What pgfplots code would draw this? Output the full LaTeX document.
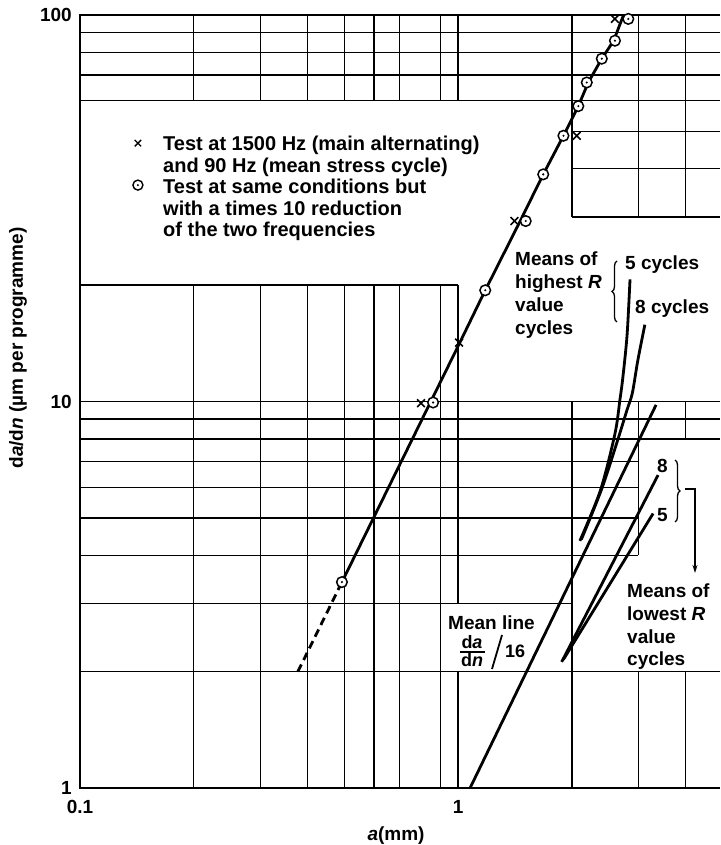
\documentclass[border=0pt]{standalone}
\usepackage{fontspec}
\setmainfont{Liberation Sans}
\usepackage{pgfplots}
\pgfplotsset{compat=1.18}
\usetikzlibrary{calc,decorations.pathreplacing,arrows.meta}
\tikzset{gl/.style={line width=1.4pt}, dl/.style={line width=2.8pt}}
\pgfdeclareplotmark{odot}{%
  \pgfpathcircle{\pgfpointorigin}{\pgfplotmarksize}%
  \pgfsetfillcolor{white}%
  \pgfusepathqfillstroke
  \pgfpathcircle{\pgfpointorigin}{0.22\pgfplotmarksize}%
  \pgfsetfillcolor{black}%
  \pgfusepathqfill
}
\begin{document}
\begin{tikzpicture}[font=\fontsize{19}{22}\selectfont\bfseries]
\begin{axis}[name=ax, scale only axis, width=640pt, height=773pt,
  xmode=log, ymode=log, xmin=0.1, xmax=4.93, ymin=1, ymax=100,
  axis line style={draw=none},
  xtick={0.1,1}, xticklabels={0.1,1},
  ytick={1,10,100}, yticklabels={1,10,100},
  xtick pos=bottom, ytick pos=left,
  major tick length=0pt, minor tick length=0pt,
  tick label style={font=\fontsize{19}{19}\selectfont\bfseries, inner sep=0pt},
  xticklabel style={yshift=-12pt},
  yticklabel style={xshift=-8pt},
  clip=false]
% ---- partial log-paper grid ----
\pgfplotsinvokeforeach{0.2,0.3,0.4,0.5,0.6,0.7,0.9}{
  \draw[gl] (axis cs:#1,1) -- (axis cs:#1,20);
  \draw[gl] (axis cs:#1,60) -- (axis cs:#1,100);
}
\draw[gl] (axis cs:1,1) -- (axis cs:1,2);
\draw[gl] (axis cs:1,3) -- (axis cs:1,20);
\draw[gl] (axis cs:1,60) -- (axis cs:1,100);
\draw[gl] (axis cs:2,1) -- (axis cs:2,10);
\draw[gl] (axis cs:2,30) -- (axis cs:2,100);
\draw[gl] (axis cs:3,1) -- (axis cs:3,2);
\draw[gl] (axis cs:3,4) -- (axis cs:3,10);
\draw[gl] (axis cs:3,30) -- (axis cs:3,100);
\draw[gl] (axis cs:4,1) -- (axis cs:4,2);
\draw[gl] (axis cs:4,8) -- (axis cs:4,10);
\draw[gl] (axis cs:4,30) -- (axis cs:4,100);
\pgfplotsinvokeforeach{60,70,80,90,8,9,10,2}{
  \draw[gl] (axis cs:0.1,#1) -- (axis cs:4.93,#1);
}
\pgfplotsinvokeforeach{30,40,50}{
  \draw[gl] (axis cs:2,#1) -- (axis cs:4.93,#1);
}
\pgfplotsinvokeforeach{4,5,6,7}{
  \draw[gl] (axis cs:0.1,#1) -- (axis cs:3,#1);
}
\draw[gl] (axis cs:0.1,20) -- (axis cs:1,20);
\draw[gl] (axis cs:0.1,3) -- (axis cs:2,3);
% frame
\draw[line width=2.2pt] (axis cs:4.93,100) -- (axis cs:0.1,100) -- (axis cs:0.1,1) -- (axis cs:4.93,1);
% ---- main crack-growth line ----
\addplot[dl, dash pattern=on 8pt off 5pt] coordinates {(0.377,2.0) (0.493,3.41)};
\addplot[dl] coordinates {
 (0.493,3.41) (0.845,9.95) (1.0,13.9) (1.18,19.4) (1.46,29.3) (1.68,38.7)
 (1.90,48.7) (2.08,58.1) (2.21,66.9) (2.40,77.1) (2.58,85.8) (2.74,100)};
% ---- highest R curves ----
\addplot[dl, smooth] coordinates {
 (2.85,20.7) (2.80,14.9) (2.73,11.6) (2.68,10.1) (2.60,8.25) (2.38,5.89) (2.10,4.36)};
\addplot[dl, smooth] coordinates {
 (3.12,15.8) (2.99,12.8) (2.89,10.5) (2.80,9.53) (2.66,8.1) (2.40,5.95) (2.12,4.40)};
% ---- mean line /16 ----
\addplot[dl] coordinates {(1.076,1) (3.34,9.8)};
% ---- lowest R lines ----
\addplot[dl] coordinates {(3.38,6.45) (1.88,2.12)};
\addplot[dl] coordinates {(3.28,5.13) (1.90,2.15)};
% ---- markers ----
\addplot[only marks, mark=x, mark size=5.5pt, line width=1.6pt] coordinates {
 (2.60,97.7) (2.06,48.7) (1.41,29.3) (1.006,14.2) (0.798,9.9)};
\addplot[only marks, mark=odot, mark size=5.3pt, line width=1.5pt] coordinates {
 (2.82,97.7) (2.60,85.8) (2.40,77.1) (2.19,66.9) (2.08,58.1) (1.90,48.7)
 (1.68,38.7) (1.51,29.3) (1.18,19.4) (0.859,9.94) (0.493,3.41)};
% legend symbols
\addplot[only marks, mark=x, mark size=4.5pt, line width=1.4pt] coordinates {(0.1423,46.6)};
\addplot[only marks, mark=odot, mark size=5pt, line width=1.4pt] coordinates {(0.1423,36.3)};
\end{axis}
\begin{scope}[shift={($(ax.south west)+(-80pt,788pt)$)}, x=1pt, y=-1pt]
\begin{scope}[font=\fontsize{20}{22}\selectfont\bfseries]
\node[anchor=base west, inner sep=0pt] at (163,151) {Test at 1500 Hz (main alternating)};
\node[anchor=base west, inner sep=0pt] at (163,173) {and 90 Hz (mean stress cycle)};
\node[anchor=base west, inner sep=0pt] at (163,194) {Test at same conditions but};
\node[anchor=base west, inner sep=0pt] at (163,216) {with a times 10 reduction};
\node[anchor=base west, inner sep=0pt] at (163,237) {of the two frequencies};
\end{scope}
% highest R
\node[anchor=base west, inner sep=0pt] at (515,266) {Means of};
\node[anchor=base west, inner sep=0pt] at (515,289) {highest \textit{R}};
\node[anchor=base west, inner sep=0pt] at (515,312) {value};
\node[anchor=base west, inner sep=0pt] at (515,335) {cycles};
\draw[line width=1.3pt, decorate, decoration={brace, amplitude=5pt}] (617,322) -- (617,261);
\node[anchor=base west, inner sep=0pt] at (625,270) {5 cycles};
\node[anchor=base west, inner sep=0pt] at (635,314) {8 cycles};
% lowest R
\node[anchor=base west, inner sep=0pt] at (657,473) {8};
\node[anchor=base west, inner sep=0pt] at (657,522) {5};
\draw[line width=1.3pt, decorate, decoration={brace, amplitude=5pt}] (675,460) -- (675,522);
\draw[line width=1.3pt, -{Stealth[length=8pt,width=5pt]}] (685,489) -- (695,489) -- (695,573);
\node[anchor=base west, inner sep=0pt] at (627,598) {Means of};
\node[anchor=base west, inner sep=0pt] at (627,621) {lowest \textit{R}};
\node[anchor=base west, inner sep=0pt] at (627,644) {value};
\node[anchor=base west, inner sep=0pt] at (627,666) {cycles};
% mean line label
\node[anchor=base west, inner sep=0pt] at (448,630) {Mean line};
\begin{scope}[font=\fontsize{18}{20}\selectfont\bfseries]
\node[anchor=base, inner sep=0pt] at (472,648.5) {d\textit{a}};
\node[anchor=base, inner sep=0pt] at (472,667) {d\textit{n}};
\node[anchor=base west, inner sep=0pt] at (505,658) {16};
\end{scope}
\draw[line width=1.5pt] (460,652) -- (485,652);
\draw[line width=1.8pt] (492,669) -- (502,635);
% axis labels
\node[anchor=base, inner sep=0pt] at (396,840) {\textit{a}(mm)};
\node[rotate=90, inner sep=0pt] at (18,348) {d\textit{a}/d\textit{n} (µm per programme)};
\pgfresetboundingbox
\path (0,0) rectangle (720,845);
\end{scope}
\end{tikzpicture}
\end{document}
